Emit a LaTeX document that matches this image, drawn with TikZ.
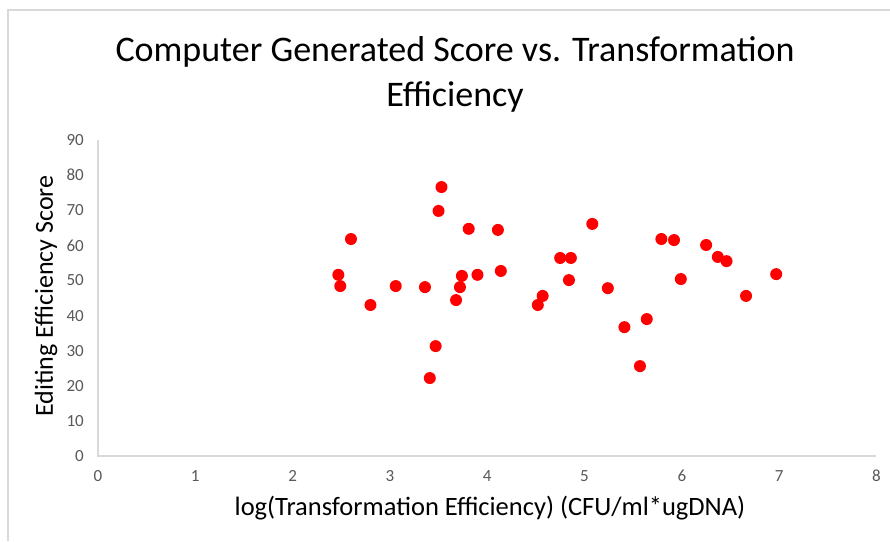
\documentclass[tikz,border=0pt]{standalone}
\usepackage{fontspec}
\setmainfont{Carlito}
\usetikzlibrary{positioning}
\definecolor{axisgray}{HTML}{D9D9D9}
\definecolor{ticktext}{HTML}{595959}

\begin{document}
\begin{tikzpicture}[x=1pt, y=1pt,
    dot/.style={circle, fill=red, inner sep=0pt, minimum size=12pt},
    axis/.style={draw=axisgray, line width=1.5pt},
    ticklabel/.style={text=ticktext, font=\fontsize{17}{20}\selectfont, inner sep=0pt}]
  \useasboundingbox (0,0) rectangle (890,541);
  \fill[white] (0,0) rectangle (890,541);

  % frame of the chart area
  \coordinate (ftop) at (890,531);
  \coordinate (fcorner) at (8,531);
  \coordinate (fbottom) at (8,0);
  \draw[axis] (ftop) -- (fcorner) -- (fbottom);

  % title and axis titles
  \node[align=center, font=\fontsize{36}{45}\selectfont] (title) at (455,467) {Computer Generated Score vs. Transformation\\Efficiency};
  \node[rotate=90, font=\fontsize{26}{30}\selectfont] (ytitle) at (46,245) {Editing Efficiency Score};
  \node[font=\fontsize{26.5}{30}\selectfont] (xtitle) at (490,33) {log(Transformation Efficiency) (CFU/ml*ugDNA)};

  \begin{scope}[shift={(98,85)}, x=97.3pt, y=3.511pt]
  \coordinate (origin) at (0,0);
  \coordinate (xend) at (8,0);
  \coordinate (ytop) at (0,90);
  \draw[axis] (ytop) -- (origin) -- (xend);

  \foreach \t in {0,...,8}
    \node[ticklabel] (xt\t) at (\t,0) [yshift=-20pt] {\t};
  \foreach \t in {0,10,...,90}
    \node[ticklabel, anchor=east] (yt\t) at (0,\t) [xshift=-14pt] {\t};

  % data points
  \foreach \px/\py [count=\i] in {2.47/51.6, 2.49/48.4, 2.60/61.8, 2.80/43.0, 3.06/48.4,
      3.36/48.1, 3.50/69.8, 3.53/76.6, 3.41/22.2, 3.47/31.3, 3.68/44.4, 3.72/48.1,
      3.74/51.3, 3.81/64.7, 3.90/51.6, 4.11/64.4, 4.14/52.7, 4.52/43.0, 4.57/45.6,
      4.75/56.4, 4.86/56.4, 4.84/50.1, 5.08/66.1, 5.24/47.8, 5.41/36.7, 5.57/25.6,
      5.64/39.0, 5.79/61.8, 5.92/61.5, 5.99/50.4, 6.25/60.1, 6.37/56.7, 6.46/55.5,
      6.66/45.6, 6.97/51.8}
    \node[dot] (p\i) at (\px,\py) {};
  \end{scope}
\end{tikzpicture}
\end{document}
